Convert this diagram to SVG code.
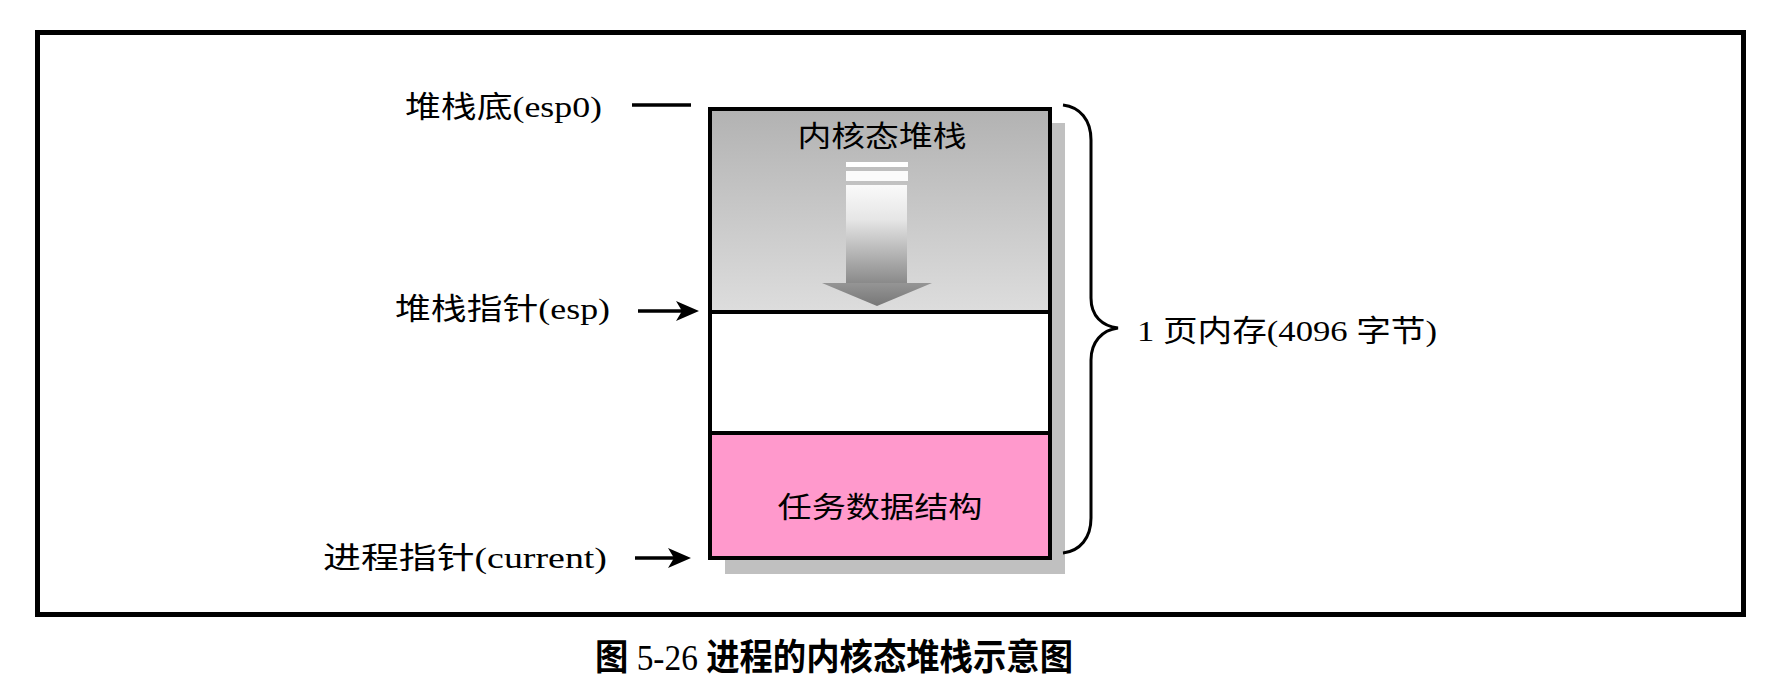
<svg xmlns="http://www.w3.org/2000/svg" width="1786" height="692" viewBox="0 0 1786 692">
<style>
.t{font-family:"Liberation Serif","Noto Sans CJK SC",serif;fill:#000;}
.lab{font-size:30px;}
.in{font-size:29px;}
.cap{font-size:36px;font-weight:bold;}
.ln{stroke:#000;stroke-width:3.5;fill:none;}
.br{stroke:#000;stroke-width:3;fill:none;}
</style>
<defs>
<linearGradient id="gStack" x1="0" y1="0" x2="0" y2="1">
<stop offset="0" stop-color="#b2b2b2"/>
<stop offset="1" stop-color="#dddddd"/>
</linearGradient>
<linearGradient id="gShaft" x1="0" y1="0" x2="0" y2="1">
<stop offset="0" stop-color="#fafafa"/>
<stop offset="0.35" stop-color="#e6e6e6"/>
<stop offset="1" stop-color="#8a8a8a"/>
</linearGradient>
<linearGradient id="gHead" x1="0" y1="0" x2="0" y2="1">
<stop offset="0" stop-color="#959595"/>
<stop offset="1" stop-color="#777777"/>
</linearGradient>
</defs>
<rect x="0" y="0" width="1786" height="692" fill="#fff"/>
<rect id="frame" x="37.5" y="32.5" width="1706" height="582" fill="none" stroke="#000" stroke-width="5"/>

<g id="stack">
<rect x="725" y="123" width="340" height="451" fill="#c0c0c0"/>
<rect x="710" y="109" width="340" height="203" fill="url(#gStack)"/>
<rect x="710" y="312" width="340" height="121" fill="#fff"/>
<rect x="710" y="433" width="340" height="125" fill="#ff99cc"/>
<line x1="710" y1="312" x2="1050" y2="312" stroke="#000" stroke-width="4"/>
<line x1="710" y1="433" x2="1050" y2="433" stroke="#000" stroke-width="4"/>
<rect x="710" y="109" width="340" height="449" fill="none" stroke="#000" stroke-width="4"/>
</g>

<g id="kernel-stack">
<text class="t in" x="882" y="147" text-anchor="middle" textLength="169" lengthAdjust="spacingAndGlyphs">内核态堆栈</text>
<rect x="846" y="162" width="62" height="5" fill="#fff"/>
<rect x="846" y="171" width="62" height="10" fill="#fbfbfb"/>
<rect x="846" y="185" width="61" height="98" fill="url(#gShaft)"/>
<polygon points="822,283 932,283 877,306" fill="url(#gHead)"/>
</g>

<g id="task-struct">
<text class="t in" x="880" y="518" text-anchor="middle" textLength="205" lengthAdjust="spacingAndGlyphs">任务数据结构</text>
</g>

<g id="label-esp0">
<text class="t lab" x="405" y="117" textLength="197" lengthAdjust="spacingAndGlyphs">堆栈底(esp0)</text>
</g>
<g id="label-esp">
<text class="t lab" x="395" y="319" textLength="215" lengthAdjust="spacingAndGlyphs">堆栈指针(esp)</text>
</g>
<g id="label-current">
<text class="t lab" x="323" y="568" textLength="284" lengthAdjust="spacingAndGlyphs">进程指针(current)</text>
</g>
<g id="label-page">
<text class="t lab" x="1137" y="341" textLength="300" lengthAdjust="spacingAndGlyphs">1 页内存(4096 字节)</text>
</g>

<g id="connectors">
<line class="ln" x1="632" y1="105" x2="691" y2="105"/>
<line class="ln" x1="638" y1="311" x2="688" y2="311"/>
<polygon points="699,311 676,301 682,311 676,321" fill="#000"/>
<line class="ln" x1="635" y1="558" x2="680" y2="558"/>
<polygon points="691,558 668,548 674,558 668,568" fill="#000"/>
<path class="br" d="M1063,105 C1080,107 1091,120 1091,140 L1091,298 C1091,316 1102,326 1118,328 C1102,330 1091,342 1091,360 L1091,518 C1091,538 1080,551 1063,553"/>
</g>

<g id="caption">
<text class="t cap" x="595" y="670" textLength="478" lengthAdjust="spacingAndGlyphs">图 <tspan font-weight="normal">5-26</tspan> 进程的内核态堆栈示意图</text>
</g>
</svg>
